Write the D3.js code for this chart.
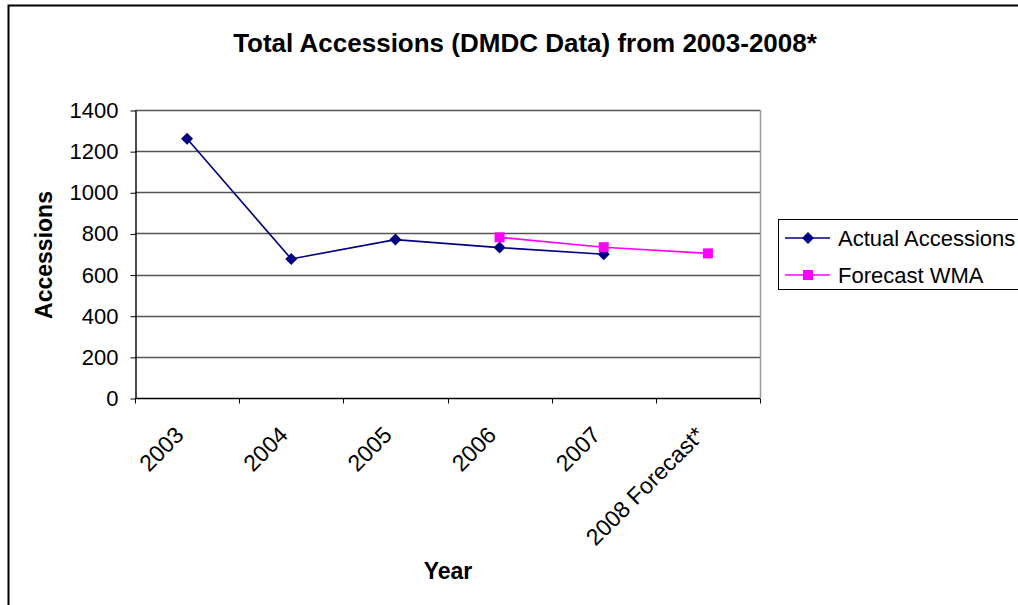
<!DOCTYPE html>
<html>
<head>
<meta charset="utf-8">
<script src="https://cdn.jsdelivr.net/npm/d3@7"></script>
<style>
  html, body { margin: 0; padding: 0; background: #fff; }
  svg { display: block; font-family: "Liberation Sans", Arial, sans-serif; }
</style>
</head>
<body>
<svg id="chart" width="1018" height="605"></svg>
<script>
// Accessions per year, with the weighted moving average forecast
const categories = ["2003", "2004", "2005", "2006", "2007", "2008 Forecast*"];
const actualAccessions = [1260, 676, 770, 731, 699, null];
const forecastWMA = [null, null, null, 781, 733, 703];
const yTicks = [0, 200, 400, 600, 800, 1000, 1200, 1400];
const seriesNames = ["Actual Accessions", "Forecast WMA"];
const seriesColors = ["#000080", "#ff00ff"];

const svg = d3.select("#chart");
const plot = { left: 135, right: 760, top: 110, bottom: 398 };

// outer chart frame (runs past the right and bottom edges)
svg.append("rect")
  .attr("x", 8.5).attr("y", 5.5)
  .attr("width", 1100).attr("height", 700)
  .attr("fill", "#fff").attr("stroke", "#000").attr("stroke-width", 2);

const x = d3.scaleBand().domain(categories).range([plot.left, plot.right]);
const y = d3.scaleLinear().domain([0, 1400]).range([plot.bottom, plot.top]);

// horizontal gridlines
svg.append("g").selectAll("line")
  .data(yTicks.filter(v => v > 0))
  .join("line")
  .attr("x1", plot.left).attr("x2", plot.right)
  .attr("y1", d => Math.round(y(d)) + 0.5).attr("y2", d => Math.round(y(d)) + 0.5)
  .attr("stroke", "#555").attr("stroke-width", 1.4);

// right edge of plot area
svg.append("line")
  .attr("x1", plot.right + 0.5).attr("x2", plot.right + 0.5)
  .attr("y1", plot.top).attr("y2", plot.bottom)
  .attr("stroke", "#999").attr("stroke-width", 1.5);

// y axis
const yAxis = svg.append("g")
  .attr("transform", `translate(${plot.left + 0.5},0.5)`)
  .call(d3.axisLeft(y).tickValues(yTicks).tickFormat(d3.format("d"))
    .tickSize(5).tickSizeOuter(0).tickPadding(12));
yAxis.select(".domain").attr("stroke", "#000").attr("stroke-width", 1.4);
yAxis.selectAll(".tick line").attr("stroke", "#000");
yAxis.selectAll("text")
  .attr("font-size", 22).attr("fill", "#000")
  .attr("font-family", "'Liberation Sans', Arial, sans-serif");

// x axis with ticks on category boundaries
const xAxisG = svg.append("g").attr("transform", `translate(0,${plot.bottom + 0.5})`);
xAxisG.append("line")
  .attr("x1", plot.left).attr("x2", plot.right)
  .attr("stroke", "#000").attr("stroke-width", 1.4);
const boundaries = categories.map(c => x(c)).concat([plot.right]);
xAxisG.selectAll("line.tk")
  .data(boundaries)
  .join("line").attr("class", "tk")
  .attr("x1", d => Math.round(d) + 0.5).attr("x2", d => Math.round(d) + 0.5)
  .attr("y1", 0).attr("y2", 5)
  .attr("stroke", "#000");
xAxisG.selectAll("text")
  .data(categories)
  .join("text")
  .attr("transform", d => `translate(${x(d) + x.bandwidth() / 2 - 2},${38}) rotate(-45)`)
  .attr("text-anchor", "end")
  .attr("font-size", 23)
  .attr("fill", "#000")
  .text(d => d);

// series lines and markers
const line = d3.line()
  .defined(d => d.v != null)
  .x(d => x(d.c) + x.bandwidth() / 2)
  .y(d => y(d.v));

const seriesData = [actualAccessions, forecastWMA].map(vals =>
  categories.map((c, i) => ({ c, v: vals[i] })));

seriesData.forEach((pts, si) => {
  svg.append("path")
    .datum(pts)
    .attr("fill", "none")
    .attr("stroke", seriesColors[si])
    .attr("stroke-width", 1.6)
    .attr("d", line);
});

function drawMarker(g, si, cx, cy) {
  if (si === 0) {
    g.append("path")
      .attr("d", `M${cx},${cy - 6}L${cx + 6},${cy}L${cx},${cy + 6}L${cx - 6},${cy}Z`)
      .attr("fill", seriesColors[0]);
  } else {
    g.append("rect")
      .attr("x", cx - 5).attr("y", cy - 5)
      .attr("width", 10).attr("height", 10)
      .attr("fill", seriesColors[1]);
  }
}

seriesData.forEach((pts, si) => {
  const g = svg.append("g");
  pts.filter(d => d.v != null).forEach(d => {
    drawMarker(g, si, x(d.c) + x.bandwidth() / 2, y(d.v));
  });
});

// title
svg.append("text")
  .attr("x", 525).attr("y", 52)
  .attr("text-anchor", "middle")
  .attr("font-size", 26).attr("font-weight", "bold")
  .text("Total Accessions (DMDC Data) from 2003-2008*");

// axis titles
svg.append("text")
  .attr("transform", "translate(52,255) rotate(-90)")
  .attr("text-anchor", "middle")
  .attr("font-size", 23).attr("font-weight", "bold")
  .text("Accessions");

svg.append("text")
  .attr("x", 448).attr("y", 579)
  .attr("text-anchor", "middle")
  .attr("font-size", 23).attr("font-weight", "bold")
  .text("Year");

// legend
const legend = svg.append("g");
legend.append("rect")
  .attr("x", 778.5).attr("y", 219.5)
  .attr("width", 300).attr("height", 70)
  .attr("fill", "#fff").attr("stroke", "#000").attr("stroke-width", 1);
seriesNames.forEach((name, i) => {
  const ly = 238 + i * 37;
  legend.append("line")
    .attr("x1", 785).attr("x2", 830)
    .attr("y1", ly).attr("y2", ly)
    .attr("stroke", seriesColors[i]).attr("stroke-width", 1.6);
  drawMarker(legend, i, 808, ly);
  legend.append("text")
    .attr("x", 838).attr("y", ly + 7.5)
    .attr("font-size", 22)
    .text(name);
});
</script>
</body>
</html>
